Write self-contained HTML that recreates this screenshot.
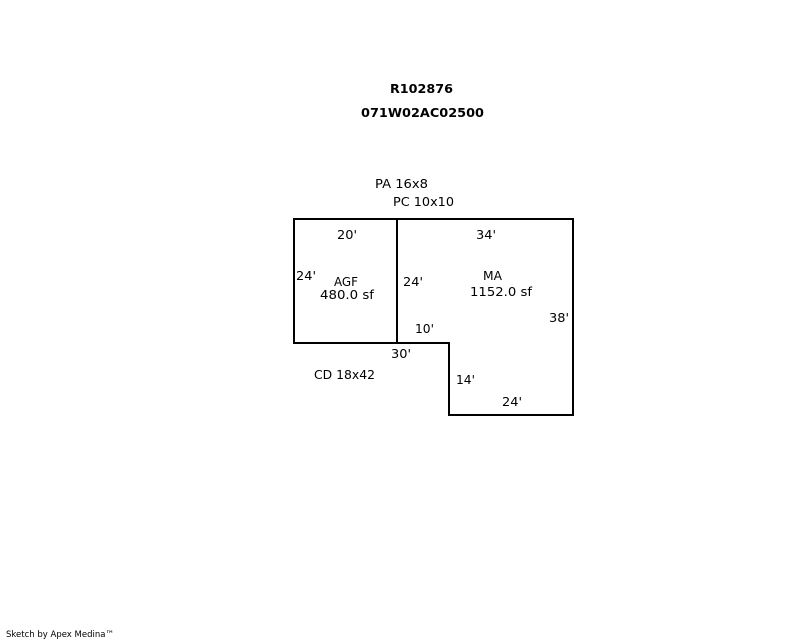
<!DOCTYPE html>
<html>
<head>
<meta charset="utf-8">
<style>
html,body{margin:0;padding:0;background:#fff;width:800px;height:640px;overflow:hidden}
svg{display:block}
text{font-family:"DejaVu Sans","Liberation Sans",sans-serif;font-size:12px;fill:#000}
</style>
</head>
<body>
<svg width="800" height="640" viewBox="0 0 800 640" xmlns="http://www.w3.org/2000/svg">
<rect width="800" height="640" fill="#fff"/>
<path d="M294 219H573V415H449V343H294Z M397 219V343H449" fill="none" stroke="#000" stroke-width="2" shape-rendering="crispEdges"/>
<g font-weight="bold">
<text x="390" y="93" textLength="63" lengthAdjust="spacingAndGlyphs" font-weight="bold">R102876</text>
<text x="361" y="117" textLength="123" lengthAdjust="spacingAndGlyphs" font-weight="bold">071W02AC02500</text>
</g>
<text x="375" y="188" textLength="53" lengthAdjust="spacingAndGlyphs">PA 16x8</text>
<text x="393" y="206" textLength="61" lengthAdjust="spacingAndGlyphs">PC 10x10</text>
<text x="337" y="239" textLength="20" lengthAdjust="spacingAndGlyphs">20'</text>
<text x="296" y="280" textLength="20" lengthAdjust="spacingAndGlyphs">24'</text>
<text x="334" y="286" textLength="24" lengthAdjust="spacingAndGlyphs">AGF</text>
<text x="320" y="299" textLength="54" lengthAdjust="spacingAndGlyphs">480.0 sf</text>
<text x="403" y="286" textLength="20" lengthAdjust="spacingAndGlyphs">24'</text>
<text x="415" y="333" textLength="19" lengthAdjust="spacingAndGlyphs">10'</text>
<text x="391" y="358" textLength="20" lengthAdjust="spacingAndGlyphs">30'</text>
<text x="314" y="379" textLength="61" lengthAdjust="spacingAndGlyphs">CD 18x42</text>
<text x="476" y="239" textLength="20" lengthAdjust="spacingAndGlyphs">34'</text>
<text x="483" y="280" textLength="19" lengthAdjust="spacingAndGlyphs">MA</text>
<text x="470" y="296" textLength="62" lengthAdjust="spacingAndGlyphs">1152.0 sf</text>
<text x="549" y="322" textLength="20" lengthAdjust="spacingAndGlyphs">38'</text>
<text x="456" y="384" textLength="19" lengthAdjust="spacingAndGlyphs">14'</text>
<text x="502" y="406" textLength="20" lengthAdjust="spacingAndGlyphs">24'</text>
<text x="6" y="637" textLength="108" lengthAdjust="spacingAndGlyphs" style="font-size:9px">Sketch by Apex Medina™</text>
</svg>
</body>
</html>
